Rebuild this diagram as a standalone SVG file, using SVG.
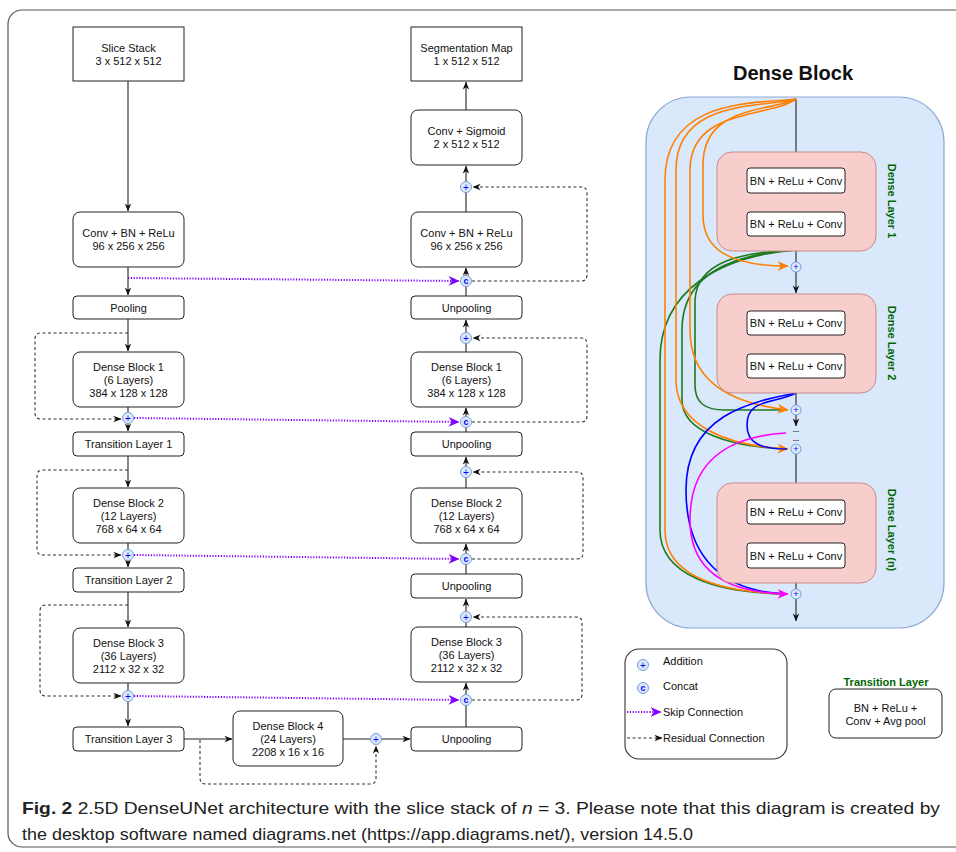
<svg xmlns="http://www.w3.org/2000/svg" width="956" height="852" viewBox="0 0 956 852">
<style>
text{font-family:"Liberation Sans",Arial,sans-serif;font-size:11px;fill:#111}
.c{text-anchor:middle;dominant-baseline:central}
.l{dominant-baseline:central}
.box{fill:#fff;stroke:#222;stroke-width:1}
.ln{fill:none;stroke:#222;stroke-width:1.1}
.dash{fill:none;stroke:#333;stroke-width:1.1;stroke-dasharray:3 2.5}
.skip{fill:none;stroke:#7f00ff;stroke-width:2;stroke-dasharray:1.2 1.6}
.op{fill:#dae8fc;stroke:#7b9ed6;stroke-width:1}
.sym{fill:#0000ff;font-size:10px;text-anchor:middle;dominant-baseline:central}
.symc{fill:#0000ff;font-size:9px;font-weight:bold;text-anchor:middle;dominant-baseline:central}
.or{fill:none;stroke:#ff8000;stroke-width:1.6}
.gr{fill:none;stroke:#1e7a1e;stroke-width:1.6}
.bl{fill:none;stroke:#0000ff;stroke-width:1.6}
.mg{fill:none;stroke:#ff00ff;stroke-width:1.6}
.pink{fill:#f8cecc;stroke:#c98a88;stroke-width:1}
.lbl{fill:#006600;font-weight:bold;font-size:11px;text-anchor:middle;dominant-baseline:central}
.cap{font-family:"Liberation Sans Narrow","Liberation Sans",Arial,sans-serif;font-size:17px;fill:#222}
.dots{font-size:7.5px;text-anchor:middle;font-weight:bold}
</style>
<defs>
<marker id="ab" viewBox="0 0 10 10" refX="9.5" refY="5" markerWidth="8" markerHeight="8" orient="auto" markerUnits="userSpaceOnUse"><path d="M0,1 L10,5 L0,9 L3,5 z" fill="#111"/></marker>
<marker id="ap" viewBox="0 0 10 10" refX="9.5" refY="5" markerWidth="11" markerHeight="11" orient="auto" markerUnits="userSpaceOnUse"><path d="M0,0.5 L10,5 L0,9.5 L3,5 z" fill="#7f00ff"/></marker>
<marker id="ao" viewBox="0 0 10 10" refX="9.5" refY="5" markerWidth="11" markerHeight="11" orient="auto" markerUnits="userSpaceOnUse"><path d="M0,0.5 L10,5 L0,9.5 L3,5 z" fill="#ff8000"/></marker>
<marker id="am" viewBox="0 0 10 10" refX="9.5" refY="5" markerWidth="11" markerHeight="11" orient="auto" markerUnits="userSpaceOnUse"><path d="M0,0.5 L10,5 L0,9.5 L3,5 z" fill="#ff00ff"/></marker>
</defs>
<rect x="8" y="10" width="975" height="837" rx="14" fill="#fff" stroke="#555" stroke-width="1.2"/>

<g id="dense-panel">
<rect x="646" y="97" width="298" height="531" rx="45" fill="#dae8fc" stroke="#8fa9d6" stroke-width="1.2"/>
<text x="793" y="73" class="c" style="font-size:20px;font-weight:bold">Dense Block</text>
</g>

<g id="connectors">
<path class="ln" marker-end="url(#ab)" d="M128,81 V211"/>
<path class="ln" marker-end="url(#ab)" d="M128,267 V295"/>
<path class="ln" marker-end="url(#ab)" d="M128,319 V351"/>
<path class="ln" marker-end="url(#ab)" d="M128,407 V431"/>
<path class="ln" marker-end="url(#ab)" d="M128,456 V487"/>
<path class="ln" marker-end="url(#ab)" d="M128,543 V567"/>
<path class="ln" marker-end="url(#ab)" d="M128,592 V627"/>
<path class="ln" marker-end="url(#ab)" d="M128,683 V726"/>
<path class="ln" marker-end="url(#ab)" d="M184,739 H232"/>
<path class="ln" marker-end="url(#ab)" d="M343,739 H410"/>
<path class="ln" marker-end="url(#ab)" d="M466,727 V683"/>
<path class="ln" marker-end="url(#ab)" d="M466,627 V599"/>
<path class="ln" marker-end="url(#ab)" d="M466,574 V544"/>
<path class="ln" marker-end="url(#ab)" d="M466,488 V457"/>
<path class="ln" marker-end="url(#ab)" d="M466,432 V408"/>
<path class="ln" marker-end="url(#ab)" d="M466,352 V320"/>
<path class="ln" marker-end="url(#ab)" d="M466,296 V268"/>
<path class="ln" marker-end="url(#ab)" d="M466,212 V166"/>
<path class="ln" marker-end="url(#ab)" d="M466,110 V82"/>

<path class="dash" marker-end="url(#ab)" d="M128,333 H41 Q35,333 35,339 V413 Q35,419 41,419 H121"/>
<path class="dash" marker-end="url(#ab)" d="M128,470 H43 Q37,470 37,476 V549 Q37,555 43,555 H121"/>
<path class="dash" marker-end="url(#ab)" d="M128,605 H46 Q40,605 40,611 V690 Q40,696 46,696 H121"/>
<path class="dash" marker-end="url(#ab)" d="M200,740 V778 Q200,784 206,784 H370 Q376,784 376,778 V746"/>
<path class="dash" marker-end="url(#ab)" d="M472,281 H581 Q587,281 587,275 V193 Q587,187 581,187 H473"/>
<path class="dash" marker-end="url(#ab)" d="M472,422 H581 Q587,422 587,416 V344 Q587,338 581,338 H473"/>
<path class="dash" marker-end="url(#ab)" d="M472,559 H577 Q583,559 583,553 V478 Q583,472 577,472 H473"/>
<path class="dash" marker-end="url(#ab)" d="M472,700 H576 Q582,700 582,694 V623 Q582,617 576,617 H473"/>

<path class="skip" marker-end="url(#ap)" d="M128,278 L459,281"/>
<path class="skip" marker-end="url(#ap)" d="M134,418 L459,422"/>
<path class="skip" marker-end="url(#ap)" d="M134,555 L459,559"/>
<path class="skip" marker-end="url(#ap)" d="M134,696 L459,700"/>

<path class="ln" marker-end="url(#ab)" d="M796,99 V167"/>
<path class="ln" marker-end="url(#ab)" d="M796,193 V211"/>
<path class="ln" d="M796,236 V262"/>
<path class="ln" marker-end="url(#ab)" d="M796,272 V293"/>
<path class="ln" marker-end="url(#ab)" d="M796,335 V353"/>
<path class="ln" d="M796,378 V405"/>
<path class="ln" marker-end="url(#ab)" d="M796,415 V426"/>
<path class="ln" marker-end="url(#ab)" d="M796,454 V499"/>
<path class="ln" marker-end="url(#ab)" d="M796,524 V542"/>
<path class="ln" d="M796,568 V589"/>
<path class="ln" marker-end="url(#ab)" d="M796,599 V621"/>

<path class="gr" d="M796,250 C740,252 697,262 695,300 L695,385 C695,403 705,410 725,410 L787,410"/>
<path class="gr" d="M796,250 C730,254 682,275 682,330 L682,400 C682,432 730,447 787,449"/>
<path class="gr" d="M796,250 C720,256 660,290 660,360 L660,530 C660,575 715,593 787,594"/>
<path class="or" marker-end="url(#ao)" d="M796,99 C770,112 703,105 703,165 L703,215 C703,250 730,266 788,266"/>
<path class="or" marker-end="url(#ao)" d="M796,99 C770,118 690,108 690,170 L690,330 C690,375 720,402 788,410"/>
<path class="or" marker-end="url(#ao)" d="M796,99 C765,108 676,98 676,170 L676,380 C676,425 725,446 788,449"/>
<path class="or" d="M796,99 C760,104 665,96 665,180 L665,530 C665,575 715,592 787,594"/>
<path class="bl" d="M796,393 C775,404 747,398 747,425 C747,443 760,449 787,449"/>
<path class="bl" d="M796,393 C750,402 686,415 686,490 C686,560 725,592 787,594"/>
<path class="mg" marker-end="url(#am)" d="M786,433 C735,436 690,455 690,520 C690,570 725,593 788,594"/>
</g>

<g id="slice-stack"><rect class="box" x="73" y="27" width="111" height="54"/><text class="c" x="128.5" y="47.5">Slice Stack</text><text class="c" x="128.5" y="60.5">3 x 512 x 512</text></g>
<g id="conv-bn-relu-enc"><rect class="box" x="73" y="212" width="111" height="55" rx="7"/><text class="c" x="128.5" y="233">Conv + BN + ReLu</text><text class="c" x="128.5" y="246">96 x 256 x 256</text></g>
<g id="pooling"><rect class="box" x="73" y="296" width="111" height="23" rx="4"/><text class="c" x="128.5" y="307.5">Pooling</text></g>
<g id="dense-block-1-enc"><rect class="box" x="73" y="352" width="111" height="55" rx="7"/><text class="c" x="128.5" y="366.5">Dense Block 1</text><text class="c" x="128.5" y="379.5">(6 Layers)</text><text class="c" x="128.5" y="392.5">384 x 128 x 128</text></g>
<g id="transition-1"><rect class="box" x="73" y="432" width="111" height="24" rx="4"/><text class="c" x="128.5" y="444">Transition Layer 1</text></g>
<g id="dense-block-2-enc"><rect class="box" x="73" y="488" width="111" height="55" rx="7"/><text class="c" x="128.5" y="502.5">Dense Block 2</text><text class="c" x="128.5" y="515.5">(12 Layers)</text><text class="c" x="128.5" y="528.5">768 x 64 x 64</text></g>
<g id="transition-2"><rect class="box" x="73" y="568" width="111" height="24" rx="4"/><text class="c" x="128.5" y="580">Transition Layer 2</text></g>
<g id="dense-block-3-enc"><rect class="box" x="73" y="628" width="111" height="55" rx="7"/><text class="c" x="128.5" y="642.5">Dense Block 3</text><text class="c" x="128.5" y="655.5">(36 Layers)</text><text class="c" x="128.5" y="668.5">2112 x 32 x 32</text></g>
<g id="transition-3"><rect class="box" x="73" y="727" width="111" height="24" rx="4"/><text class="c" x="128.5" y="739">Transition Layer 3</text></g>
<g id="dense-block-4"><rect class="box" x="233" y="711" width="110" height="55" rx="7"/><text class="c" x="288" y="725.5">Dense Block 4</text><text class="c" x="288" y="738.5">(24 Layers)</text><text class="c" x="288" y="751.5">2208 x 16 x 16</text></g>

<g id="segmentation-map"><rect class="box" x="411" y="27" width="111" height="54"/><text class="c" x="466.5" y="47.5">Segmentation Map</text><text class="c" x="466.5" y="60.5">1 x 512 x 512</text></g>
<g id="conv-sigmoid"><rect class="box" x="411" y="110" width="111" height="55" rx="7"/><text class="c" x="466.5" y="131">Conv + Sigmoid</text><text class="c" x="466.5" y="144">2 x 512 x 512</text></g>
<g id="conv-bn-relu-dec"><rect class="box" x="411" y="212" width="111" height="55" rx="7"/><text class="c" x="466.5" y="233">Conv + BN + ReLu</text><text class="c" x="466.5" y="246">96 x 256 x 256</text></g>
<g id="unpooling-1"><rect class="box" x="411" y="296" width="111" height="23" rx="4"/><text class="c" x="466.5" y="307.5">Unpooling</text></g>
<g id="dense-block-1-dec"><rect class="box" x="411" y="352" width="111" height="55" rx="7"/><text class="c" x="466.5" y="366.5">Dense Block 1</text><text class="c" x="466.5" y="379.5">(6 Layers)</text><text class="c" x="466.5" y="392.5">384 x 128 x 128</text></g>
<g id="unpooling-2"><rect class="box" x="411" y="432" width="111" height="24" rx="4"/><text class="c" x="466.5" y="444">Unpooling</text></g>
<g id="dense-block-2-dec"><rect class="box" x="411" y="488" width="111" height="55" rx="7"/><text class="c" x="466.5" y="502.5">Dense Block 2</text><text class="c" x="466.5" y="515.5">(12 Layers)</text><text class="c" x="466.5" y="528.5">768 x 64 x 64</text></g>
<g id="unpooling-3"><rect class="box" x="411" y="574" width="111" height="24" rx="4"/><text class="c" x="466.5" y="586">Unpooling</text></g>
<g id="dense-block-3-dec"><rect class="box" x="411" y="627" width="111" height="55" rx="7"/><text class="c" x="466.5" y="641.5">Dense Block 3</text><text class="c" x="466.5" y="654.5">(36 Layers)</text><text class="c" x="466.5" y="667.5">2112 x 32 x 32</text></g>
<g id="unpooling-4"><rect class="box" x="411" y="727" width="111" height="24" rx="4"/><text class="c" x="466.5" y="739">Unpooling</text></g>

<g id="add-l1"><circle class="op" cx="128" cy="418" r="5.5"/><text class="sym" x="128" y="418">+</text></g>
<g id="add-l2"><circle class="op" cx="128" cy="555" r="5.5"/><text class="sym" x="128" y="555">+</text></g>
<g id="add-l3"><circle class="op" cx="128" cy="696" r="5.5"/><text class="sym" x="128" y="696">+</text></g>
<g id="add-b"><circle class="op" cx="376" cy="739" r="5.5"/><text class="sym" x="376" y="739">+</text></g>
<g id="add-r0"><circle class="op" cx="466" cy="187" r="5.5"/><text class="sym" x="466" y="187">+</text></g>
<g id="add-r1"><circle class="op" cx="466" cy="338" r="5.5"/><text class="sym" x="466" y="338">+</text></g>
<g id="add-r2"><circle class="op" cx="466" cy="472" r="5.5"/><text class="sym" x="466" y="472">+</text></g>
<g id="add-r3"><circle class="op" cx="466" cy="617" r="5.5"/><text class="sym" x="466" y="617">+</text></g>
<g id="cat-r0"><circle class="op" cx="466" cy="281" r="5.5"/><text class="symc" x="466" y="281">c</text></g>
<g id="cat-r1"><circle class="op" cx="466" cy="422" r="5.5"/><text class="symc" x="466" y="422">c</text></g>
<g id="cat-r2"><circle class="op" cx="466" cy="559" r="5.5"/><text class="symc" x="466" y="559">c</text></g>
<g id="cat-r3"><circle class="op" cx="466" cy="700" r="5.5"/><text class="symc" x="466" y="700">c</text></g>

<g id="dense-layer-1"><rect class="pink" x="717" y="152" width="159" height="99" rx="15"/><rect class="box" x="747" y="168" width="98" height="25" rx="3"/><text class="c" x="796" y="180.5">BN + ReLu + Conv</text><rect class="box" x="747" y="212" width="98" height="24" rx="3"/><text class="c" x="796" y="224">BN + ReLu + Conv</text><text class="lbl" x="892" y="201" transform="rotate(90 892 201)">Dense Layer 1</text></g>
<g id="dense-layer-2"><rect class="pink" x="717" y="294" width="159" height="99" rx="15"/><rect class="box" x="747" y="311" width="98" height="24" rx="3"/><text class="c" x="796" y="323">BN + ReLu + Conv</text><rect class="box" x="747" y="354" width="98" height="24" rx="3"/><text class="c" x="796" y="366">BN + ReLu + Conv</text><text class="lbl" x="892" y="343" transform="rotate(90 892 343)">Dense Layer 2</text></g>
<g id="dense-layer-n"><rect class="pink" x="717" y="483" width="159" height="100" rx="15"/><rect class="box" x="747" y="500" width="98" height="24" rx="3"/><text class="c" x="796" y="512">BN + ReLu + Conv</text><rect class="box" x="747" y="543" width="98" height="25" rx="3"/><text class="c" x="796" y="555.5">BN + ReLu + Conv</text><text class="lbl" x="892" y="530" transform="rotate(90 892 530)">Dense Layer (n)</text></g>
<g id="dense-adds">
<circle class="op" cx="796" cy="267" r="5"/><text class="sym" x="796" y="267" style="font-size:9px">+</text>
<circle class="op" cx="796" cy="410" r="5"/><text class="sym" x="796" y="410" style="font-size:9px">+</text>
<circle class="op" cx="796" cy="449" r="5"/><text class="sym" x="796" y="449" style="font-size:9px">+</text>
<circle class="op" cx="796" cy="594" r="5"/><text class="sym" x="796" y="594" style="font-size:9px">+</text>
<text class="dots" x="796" y="432">...</text>
<text class="dots" x="796" y="441">...</text>
</g>

<g id="legend">
<rect x="625" y="649" width="162" height="110" rx="14" fill="#fff" stroke="#333" stroke-width="1.1"/>
<circle class="op" cx="643" cy="665" r="5.5"/><text class="sym" x="643" y="665">+</text>
<text class="l" x="663" y="661">Addition</text>
<circle class="op" cx="643" cy="688" r="5.5"/><text class="symc" x="643" y="688">c</text>
<text class="l" x="663" y="686">Concat</text>
<path class="skip" marker-end="url(#ap)" d="M627,712 H661"/>
<text class="l" x="663" y="712">Skip Connection</text>
<path class="dash" marker-end="url(#ab)" d="M627,738 H662"/>
<text class="l" x="663" y="738">Residual Connection</text>
</g>
<g id="transition-legend">
<text class="lbl" x="886" y="682">Transition Layer</text>
<rect class="box" x="829" y="689" width="113" height="49" rx="7"/>
<text class="c" x="885.5" y="707.5">BN + ReLu +</text>
<text class="c" x="885.5" y="720.5">Conv + Avg pool</text>
</g>

<g id="caption">
<text class="cap" x="22" y="814" textLength="918" lengthAdjust="spacingAndGlyphs"><tspan font-weight="bold">Fig. 2</tspan>  2.5D DenseUNet architecture with the slice stack of <tspan font-style="italic">n</tspan> = 3. Please note that this diagram is created by</text>
<text class="cap" x="22" y="840" textLength="671" lengthAdjust="spacingAndGlyphs">the desktop software named diagrams.net (https://app.diagrams.net/), version 14.5.0</text>
</g>
</svg>
